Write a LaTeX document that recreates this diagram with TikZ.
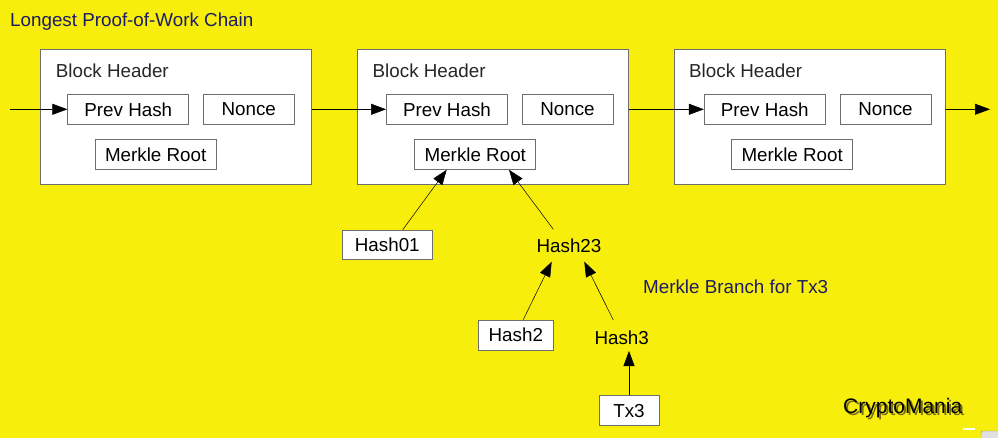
\documentclass[tikz,border=0pt]{standalone}
\usepackage{fontspec}
\setmainfont{Liberation Sans}
\usetikzlibrary{arrows.meta,calc}
\definecolor{bgyellow}{RGB}{248,238,12}
\definecolor{boxgray}{RGB}{110,110,110}
\definecolor{navytext}{RGB}{28,28,100}
\definecolor{shadowcol}{RGB}{120,110,20}
\tikzset{
  block/.style={draw=boxgray,fill=white,line width=0.9pt,minimum width=271pt,minimum height=135pt,inner sep=0pt},
  field/.style={draw=boxgray,fill=white,line width=0.9pt,minimum height=30pt,inner sep=0pt,font=\fontsize{18.8}{22}\selectfont},
  lbl/.style={inner sep=0pt,font=\fontsize{18.8}{22}\selectfont},
  conn/.style={line width=0.5pt,-{Triangle[length=15pt,width=11pt]}},
}
\begin{document}
\begin{tikzpicture}[x=1pt,y=-1pt]
\fill[bgyellow] (0,0) rectangle (998,438);
\useasboundingbox (0,0) rectangle (998,438);

\node[lbl,anchor=west,text=navytext] (title) at (10,22) {Longest Proof-of-Work Chain};

% blocks
\node[block] (b1) at (176.2,116.7) {};
\node[block] (b2) at (492.8,116.7) {};
\node[block] (b3) at (809.8,116.7) {};

\node[lbl,anchor=west,text=black!85] (bh1) at (55.7,71) {Block Header};
\node[lbl,anchor=west,text=black!85] (bh2) at (372.5,71) {Block Header};
\node[lbl,anchor=west,text=black!85] (bh3) at (689,71) {Block Header};

\node[field,minimum width=121pt] (p1) at (128.3,109.3) {Prev Hash};
\node[field,minimum width=91pt] (n1) at (248.7,109.3) {Nonce};
\node[field,minimum width=121pt] (m1) at (155.7,154.3) {Merkle Root};

\node[field,minimum width=121pt] (p2) at (447,109.3) {Prev Hash};
\node[field,minimum width=91pt] (n2) at (567.5,109.3) {Nonce};
\node[field,minimum width=121pt] (m2) at (475.3,154.3) {Merkle Root};

\node[field,minimum width=121pt] (p3) at (764.8,109.3) {Prev Hash};
\node[field,minimum width=91pt] (n3) at (885.5,109.3) {Nonce};
\node[field,minimum width=121pt] (m3) at (792.2,154.3) {Merkle Root};

% chain arrows
\coordinate (in) at (10,109.3);
\coordinate (out) at (990,109.3);
\draw[conn] (in) -- (p1.west);
\draw[conn] (b1.east |- p1.west) -- (p2.west);
\draw[conn] (b2.east |- p2.west) -- (p3.west);
\draw[conn] (b3.east |- p3.east) -- (out);

% merkle branch
\node[field,minimum width=90pt,minimum height=29pt] (h01) at (387.3,244.7) {Hash01};
\node[lbl] (h23) at (569,246) {Hash23};
\node[field,minimum width=75pt] (h2) at (515.8,335) {Hash2};
\node[lbl] (h3) at (621.7,338) {Hash3};
\node[field,minimum width=60pt] (tx3) at (629,410.7) {Tx3};

\draw[conn] ($(h01.north)+(15.4,0)$) -- ($(m2.south)+(-28.6,0)$);
\draw[conn] ($(h23)+(-15.7,-16.7)$) -- ($(m2.south)+(33.7,0)$);
\draw[conn] ($(h2.north)+(7.5,0)$) -- ($(h23)+(-17.3,15.7)$);
\draw[conn] ($(h3)+(-8.4,-18)$) -- ($(h23)+(15.3,15.7)$);
\draw[conn] (tx3.north) -- ($(h3)+(7.3,13)$);

\node[lbl,anchor=west,text=navytext] (branch) at (643,287) {Merkle Branch for Tx3};

% watermark with soft shadow
\node[inner sep=0pt,anchor=west,font=\fontsize{21}{24}\selectfont,text=shadowcol] (cmshadow) at (845,410.5) {CryptoMania};
\node[inner sep=0pt,anchor=west,font=\fontsize{21}{24}\selectfont] (cm) at (843,408) {CryptoMania};

% screen artifacts
\fill[white] (963,427.5) rectangle (975,429.5);
\filldraw[fill=black!12,draw=black!45,rounded corners=2pt] (981,431) rectangle (1002,442);
\end{tikzpicture}
\end{document}
